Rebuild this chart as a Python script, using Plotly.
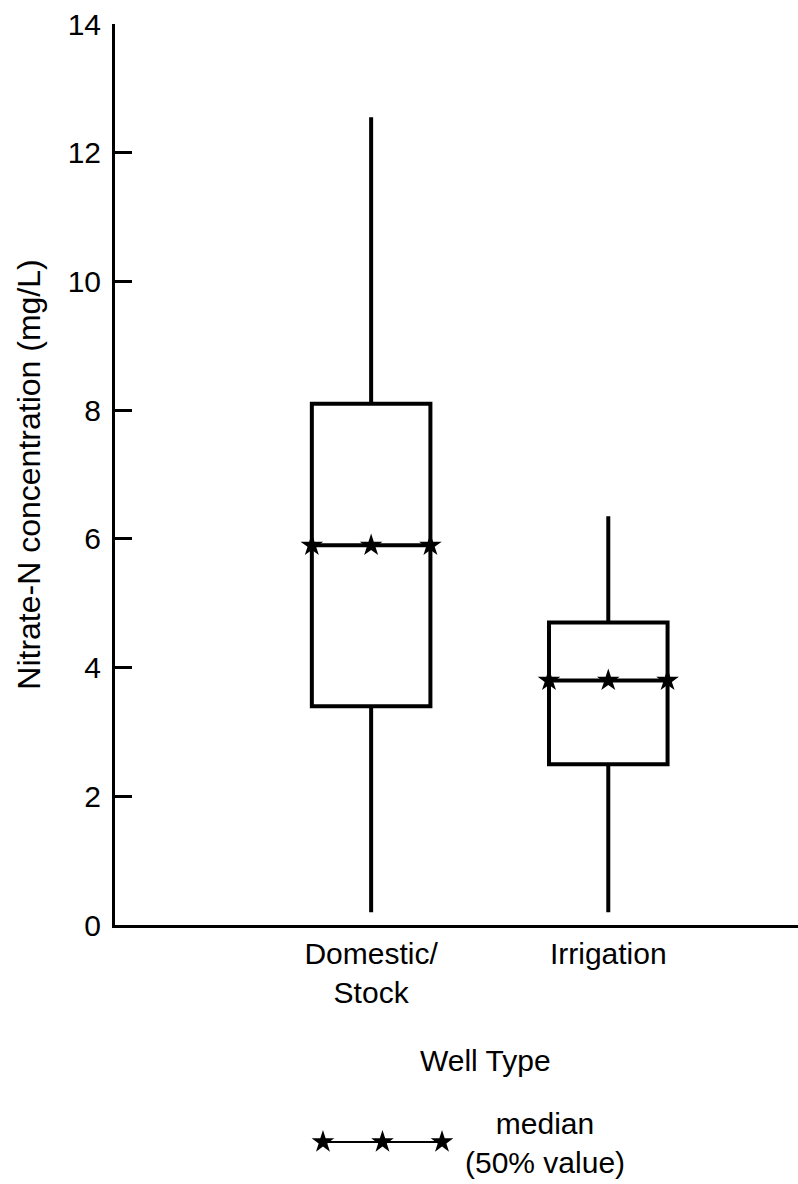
import plotly.graph_objects as go

# ---- data ----
categories = ["Domestic/<br>Stock", "Irrigation"]
positions = [0, 1]
lower_whisker = [0.2, 0.2]
q1 = [3.4, 2.5]
median = [5.9, 3.8]
q3 = [8.1, 4.7]
upper_whisker = [12.55, 6.35]
y_ticks = [0, 2, 4, 6, 8, 10, 12, 14]

FONT = "Arial, Liberation Sans, Helvetica, sans-serif"
BOX_W = 0.5

fig = go.Figure()

fig.add_trace(go.Box(
    x=positions, q1=q1, median=median, q3=q3,
    lowerfence=lower_whisker, upperfence=upper_whisker,
    width=BOX_W, whiskerwidth=0, boxpoints=False,
    fillcolor="white", line=dict(color="black", width=4),
    showlegend=False, hoverinfo="skip",
))

# median stars (left edge, centre, right edge of each box)
sx, sy = [], []
for p, m in zip(positions, median):
    for off in (-BOX_W / 2, 0, BOX_W / 2):
        sx.append(p + off)
        sy.append(m)
fig.add_trace(go.Scatter(
    x=sx, y=sy, mode="markers",
    marker=dict(symbol="star", size=17, color="black"),
    cliponaxis=False, showlegend=False, hoverinfo="skip",
))

# legend key: star-line-star
fig.add_trace(go.Scatter(
    x=[0, 1, 2], y=[0, 0, 0], mode="lines+markers",
    line=dict(color="black", width=2),
    marker=dict(symbol="star", size=17, color="black"),
    xaxis="x2", yaxis="y2", cliponaxis=False,
    showlegend=False, hoverinfo="skip",
))

fig.update_layout(
    width=798, height=1184,
    margin=dict(l=115, r=0, t=24, b=20),
    paper_bgcolor="white", plot_bgcolor="white",
    font=dict(family=FONT, size=30, color="black"),
    xaxis=dict(
        domain=[0, 1], anchor="y", range=[-1.08, 1.80],
        tickvals=positions, ticktext=categories, ticks="",
        showline=True, linewidth=3, linecolor="black",
        showgrid=False, zeroline=False,
        tickfont=dict(size=30, family=FONT),
    ),
    yaxis=dict(
        domain=[0.2096, 1], anchor="x", range=[0, 14],
        tickvals=y_ticks, ticks="inside", ticklen=17, tickwidth=3,
        tickcolor="black", showline=True, linewidth=3, linecolor="black",
        showgrid=False, zeroline=False, ticklabelstandoff=5,
        tickfont=dict(size=30, family=FONT),
        title=dict(text="Nitrate-N concentration (mg/L)",
                   font=dict(size=32, family=FONT), standoff=18),
    ),
    xaxis2=dict(domain=[0.3045, 0.4788], range=[0, 2], anchor="y2",
                visible=False),
    yaxis2=dict(domain=[0, 0.0386], range=[-1, 1], anchor="x2",
                visible=False),
    annotations=[
        dict(text="Well Type", xref="paper", yref="paper",
             x=0.543, y=0.0904, xanchor="center", yanchor="middle",
             showarrow=False, font=dict(size=30, family=FONT)),
        dict(text="median<br>(50% value)", xref="paper", yref="paper",
             x=0.6296, y=0.0184, xanchor="center", yanchor="middle",
             showarrow=False, font=dict(size=30, family=FONT)),
    ],
)

fig.write_html("out.html")
